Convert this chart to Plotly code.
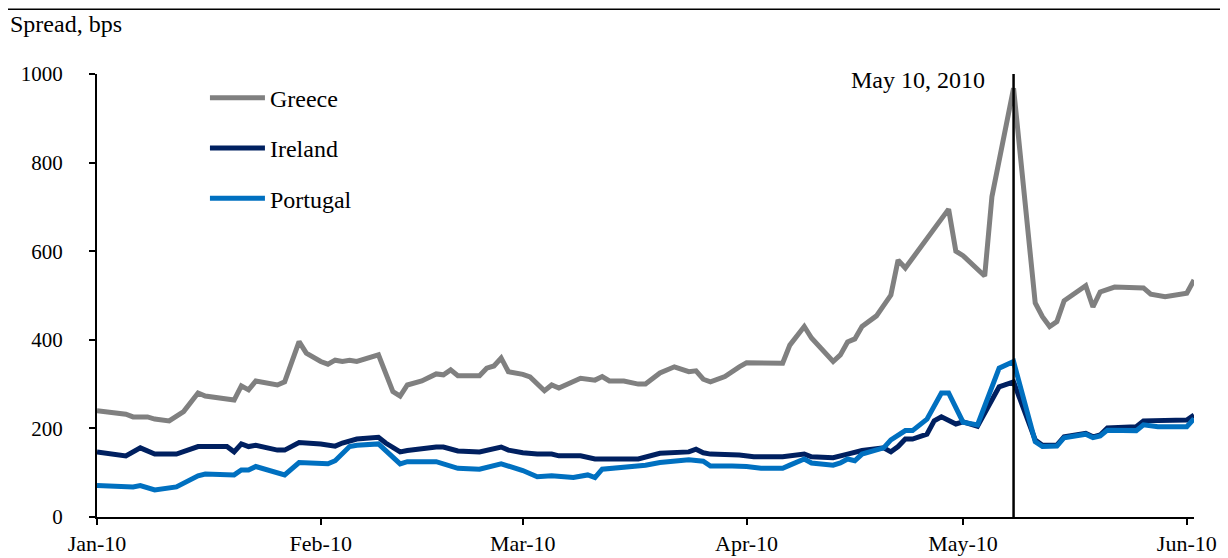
import plotly.graph_objects as go

greece_dates = ["2010-01-01","2010-01-05","2010-01-06","2010-01-08","2010-01-09","2010-01-11","2010-01-13","2010-01-15","2010-01-16","2010-01-20","2010-01-21","2010-01-22","2010-01-23","2010-01-26","2010-01-27","2010-01-29","2010-01-30",
"2010-02-01","2010-02-02","2010-02-03","2010-02-04","2010-02-05","2010-02-06","2010-02-09","2010-02-11","2010-02-12","2010-02-13","2010-02-15","2010-02-17","2010-02-18","2010-02-19","2010-02-20","2010-02-23","2010-02-24","2010-02-25","2010-02-26","2010-02-27",
"2010-03-01","2010-03-02","2010-03-03","2010-03-04","2010-03-05","2010-03-06","2010-03-09","2010-03-11","2010-03-12","2010-03-13","2010-03-15","2010-03-17","2010-03-18","2010-03-20","2010-03-22","2010-03-24","2010-03-25","2010-03-26","2010-03-27","2010-03-29","2010-03-31",
"2010-04-01","2010-04-06","2010-04-07","2010-04-09","2010-04-10","2010-04-13","2010-04-14","2010-04-15","2010-04-16","2010-04-17","2010-04-19","2010-04-21","2010-04-22","2010-04-23","2010-04-27","2010-04-29","2010-04-30",
"2010-05-01","2010-05-04","2010-05-05","2010-05-08","2010-05-09","2010-05-11","2010-05-12","2010-05-13","2010-05-14","2010-05-15","2010-05-18","2010-05-19","2010-05-20","2010-05-22","2010-05-26","2010-05-27","2010-05-29","2010-06-01","2010-06-02"]
greece_values = [240,232,226,226,221,217,238,280,273,264,296,287,307,298,305,396,370,
351,345,354,351,354,351,366,283,273,298,307,323,321,332,319,319,336,341,359,328,
322,316,300,285,298,291,313,309,317,307,307,300,300,325,339,328,330,311,305,317,339,
348,347,388,430,404,351,366,395,402,430,454,501,580,562,652,695,600,
590,544,723,968,813,483,452,430,441,488,522,474,508,519,517,503,497,505,535]

ireland_dates = ["2010-01-01","2010-01-05","2010-01-07","2010-01-09","2010-01-12","2010-01-15","2010-01-19","2010-01-20","2010-01-21","2010-01-22","2010-01-23","2010-01-26","2010-01-27","2010-01-29",
"2010-02-01","2010-02-03","2010-02-04","2010-02-06","2010-02-09","2010-02-10","2010-02-12","2010-02-13","2010-02-17","2010-02-18","2010-02-20","2010-02-23","2010-02-26","2010-02-27",
"2010-03-01","2010-03-03","2010-03-05","2010-03-06","2010-03-09","2010-03-11","2010-03-17","2010-03-18","2010-03-20","2010-03-24","2010-03-25","2010-03-26","2010-03-27","2010-03-31",
"2010-04-02","2010-04-06","2010-04-09","2010-04-10","2010-04-13","2010-04-15","2010-04-17","2010-04-20","2010-04-21","2010-04-22","2010-04-23","2010-04-24","2010-04-26","2010-04-27","2010-04-28","2010-04-30",
"2010-05-01","2010-05-03","2010-05-06","2010-05-08","2010-05-11","2010-05-12","2010-05-14","2010-05-15","2010-05-18","2010-05-19","2010-05-20","2010-05-21","2010-05-25","2010-05-26","2010-05-28","2010-06-01","2010-06-02"]
ireland_values = [147,138,156,142,142,159,159,147,165,159,162,151,151,168,
165,160,167,176,180,167,147,150,158,158,149,147,158,151,
145,142,142,138,138,131,131,136,144,147,153,145,142,140,
136,136,142,136,134,142,150,156,147,159,176,176,187,217,226,210,
215,205,294,305,174,162,162,181,189,181,185,201,204,217,217,219,230]

portugal_dates = ["2010-01-01","2010-01-06","2010-01-07","2010-01-09","2010-01-12","2010-01-13","2010-01-15","2010-01-16","2010-01-20","2010-01-21","2010-01-22","2010-01-23","2010-01-27","2010-01-29",
"2010-02-01","2010-02-02","2010-02-03","2010-02-05","2010-02-06","2010-02-09","2010-02-12","2010-02-13","2010-02-17","2010-02-18","2010-02-20","2010-02-23","2010-02-26",
"2010-03-01","2010-03-03","2010-03-05","2010-03-08","2010-03-10","2010-03-11","2010-03-12","2010-03-16","2010-03-18","2010-03-20","2010-03-24","2010-03-26","2010-03-27","2010-03-30",
"2010-04-01","2010-04-03","2010-04-06","2010-04-07","2010-04-09","2010-04-10","2010-04-13","2010-04-14","2010-04-15","2010-04-16","2010-04-17","2010-04-20","2010-04-21","2010-04-23","2010-04-24","2010-04-26","2010-04-28","2010-04-29",
"2010-05-01","2010-05-03","2010-05-06","2010-05-08","2010-05-11","2010-05-12","2010-05-14","2010-05-15","2010-05-18","2010-05-19","2010-05-20","2010-05-21","2010-05-25","2010-05-26","2010-05-28","2010-06-01","2010-06-02"]
portugal_values = [71,68,71,61,68,77,93,97,95,106,106,114,95,123,
122,120,127,159,162,165,120,125,125,120,110,108,120,
105,91,93,89,95,89,108,114,117,123,129,126,115,115,
114,110,110,117,131,122,117,122,131,127,142,156,174,195,195,221,280,280,
214,208,336,351,170,159,160,179,187,179,183,196,195,208,204,204,222]

tick_dates = ["2010-01-01","2010-02-01","2010-03-01","2010-04-01","2010-05-01","2010-06-01"]
tick_labels = ["Jan-10","Feb-10","Mar-10","Apr-10","May-10","Jun-10"]
y_ticks = [0,200,400,600,800,1000]
event_date = "2010-05-08"
event_label = "May 10, 2010"

FONT = "Liberation Serif"

fig = go.Figure()
fig.add_trace(go.Scatter(x=greece_dates, y=greece_values, name="Greece", mode="lines",
                         line=dict(color="#808080", width=5), legendgroup="g"))
fig.add_trace(go.Scatter(x=ireland_dates, y=ireland_values, name="Ireland", mode="lines",
                         line=dict(color="#002060", width=5), legendgroup="i"))
fig.add_trace(go.Scatter(x=portugal_dates, y=portugal_values, name="Portugal", mode="lines",
                         line=dict(color="#0070C0", width=5), legendgroup="p"))

fig.add_shape(type="line", xref="x", yref="y", x0=event_date, x1=event_date, y0=0, y1=1000,
              line=dict(color="black", width=2.5), layer="above")
fig.add_annotation(x=event_date, y=1000, xref="x", yref="y", text=event_label, showarrow=False,
                   xanchor="right", yanchor="middle", xshift=-27, yshift=-6,
                   font=dict(family=FONT, size=24, color="black"))
fig.add_annotation(x=-0.081, y=1.113, xref="paper", yref="paper", text="Spread, bps", showarrow=False,
                   xanchor="left", yanchor="middle", font=dict(family=FONT, size=24, color="black"))
fig.add_shape(type="line", xref="paper", yref="paper", x0=-0.09, x1=1.04, y0=1.146, y1=1.146,
              line=dict(color="black", width=1.5))

fig.update_layout(
    width=1220, height=550,
    margin=dict(l=89, r=34, t=66, b=41, autoexpand=False),
    paper_bgcolor="white", plot_bgcolor="white",
    font=dict(family=FONT, size=22, color="black"),
    showlegend=True,
    legend=dict(x=0.0984, y=0.9963, xanchor="left", yanchor="top", bgcolor="rgba(0,0,0,0)",
                font=dict(family=FONT, size=24, color="black"), tracegroupgap=16,
                traceorder="grouped", itemwidth=55),
    xaxis=dict(type="date", range=["2010-01-01", "2010-06-02"], tickvals=tick_dates, ticktext=tick_labels,
               showgrid=False, zeroline=False, showline=True, linecolor="black", linewidth=2,
               ticks="outside", ticklen=6, tickwidth=2, tickcolor="black", ticklabelstandoff=0,
               automargin=False, tickfont=dict(family=FONT, size=22, color="black")),
    yaxis=dict(range=[0, 1000], tickvals=y_ticks, showgrid=False, zeroline=False, showline=True,
               linecolor="black", linewidth=2, ticks="outside", ticklen=6, tickwidth=2, tickcolor="black",
               ticklabelstandoff=22, automargin=False, tickfont=dict(family=FONT, size=21, color="black")),
)

fig.write_html("out.html")
